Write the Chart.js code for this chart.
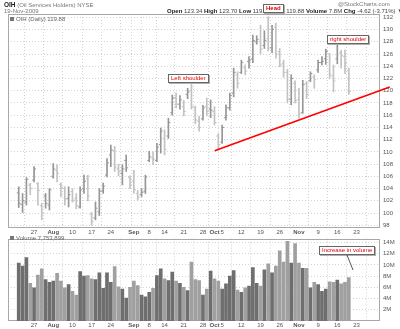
<!DOCTYPE html>
<html>
<head>
<meta charset="utf-8">
<script src="https://cdn.jsdelivr.net/npm/chart.js@4.4.0/dist/chart.umd.min.js"></script>
<style>
  html, body { margin: 0; padding: 0; background: #fff; }
  #lienzo { position: relative; width: 400px; height: 329px; overflow: hidden; font-family: "Liberation Sans", Arial, sans-serif; color: #444; }
  #graficaPrecios { position: absolute; left: 0; top: 0; }
  #graficaVolumen { position: absolute; left: 0; top: 232px; }
  .texto { position: absolute; white-space: nowrap; font-size: 6px; line-height: 7px; }
  .texto b { color: #222; }
  .icono { display: inline-block; width: 4px; height: 4px; background: #777; margin-right: 2px; vertical-align: 0; }
  .nota { position: absolute; white-space: nowrap; font-size: 6px; line-height: 7px; color: #e00000; background: #fff; border: 1px solid #666; box-shadow: 1px 1px 0 #b0b0b0; padding: 0 2px; }
  #flecha { position: absolute; left: 0; top: 0; }
</style>
</head>
<body>
<div id="lienzo">
  <canvas id="graficaPrecios" width="400" height="240"></canvas>
  <canvas id="graficaVolumen" width="400" height="97"></canvas>

  <div class="texto" style="left:4px;top:1px;"><b style="font-size:6.5px">OIH</b> <span style="color:#777">(Oil Services Holders) NYSE</span></div>
  <div class="texto" style="left:4px;top:8px;color:#777">19-Nov-2009</div>
  <div class="texto" style="left:338px;top:1px;color:#777">@StockCharts.com</div>
  <div class="texto" style="left:167px;top:8px;"><b>Open</b> 123.34 <b>High</b> 123.70 <b>Low</b> 119.40 <b>Last</b> 119.88 <b>Volume</b> 7.8M <b>Chg</b> -4.62 (-3.71%) &#9660;</div>
  <div class="texto" style="left:10px;top:16px;color:#666"><span class="icono"></span>OIH (Daily) 119.88</div>
  <div class="texto" style="left:10px;top:235px;color:#666"><span class="icono"></span>Volume 7,753,899</div>

  <div class="nota" style="left:263px;top:4px;font-weight:bold">Head</div>
  <div class="nota" style="left:168px;top:74px;">Left shoulder</div>
  <div class="nota" style="left:327px;top:35px;">right shoulder</div>
  <div class="nota" style="left:319px;top:246px;">Increase in volume</div>
  <svg id="flecha" width="400" height="329"><line x1="347" y1="255" x2="353" y2="270" stroke="#555" stroke-width="1"/></svg>
</div>

<script>
// sesiones de OIH, 21-jul a 19-nov-2009
const fechas = [
  "Jul 21", "Jul 22", "Jul 23", "Jul 24",
  "Jul 27", "Jul 28", "Jul 29", "Jul 30", "Jul 31",
  "Aug 3", "Aug 4", "Aug 5", "Aug 6", "Aug 7",
  "Aug 10", "Aug 11", "Aug 12", "Aug 13", "Aug 14",
  "Aug 17", "Aug 18", "Aug 19", "Aug 20", "Aug 21",
  "Aug 24", "Aug 25", "Aug 26", "Aug 27", "Aug 28",
  "Aug 31", "Sep 1", "Sep 2", "Sep 3", "Sep 4",
  "Sep 8", "Sep 9", "Sep 10", "Sep 11",
  "Sep 14", "Sep 15", "Sep 16", "Sep 17", "Sep 18",
  "Sep 21", "Sep 22", "Sep 23", "Sep 24", "Sep 25",
  "Sep 28", "Sep 29", "Sep 30", "Oct 1", "Oct 2",
  "Oct 5", "Oct 6", "Oct 7", "Oct 8", "Oct 9",
  "Oct 12", "Oct 13", "Oct 14", "Oct 15", "Oct 16",
  "Oct 19", "Oct 20", "Oct 21", "Oct 22", "Oct 23",
  "Oct 26", "Oct 27", "Oct 28", "Oct 29", "Oct 30",
  "Nov 2", "Nov 3", "Nov 4", "Nov 5", "Nov 6",
  "Nov 9", "Nov 10", "Nov 11", "Nov 12", "Nov 13",
  "Nov 16", "Nov 17", "Nov 18", "Nov 19"
];

const aperturas = [
  103.3, 101.4, 101.8, 104.6, 105.4, 104.8, 101.2, 102.8, 101.3, 106.0,
  107.0, 104.7, 104.0, 102.4, 103.5, 102.4, 101.0, 104.0, 105.6, 99.8,
  99.2, 100.2, 103.6, 106.2, 109.5, 110.2, 107.2, 106.5, 108.6, 105.8,
  105.2, 103.2, 103.0, 103.6, 108.6, 109.0, 108.6, 111.2, 112.2, 112.6,
  116.4, 118.9, 117.8, 117.4, 119.4, 120.0, 117.2, 115.0, 115.4, 117.4,
  117.0, 116.6, 112.6, 111.6, 115.6, 117.2, 119.6, 122.6, 123.0, 123.8,
  124.8, 125.2, 128.0, 128.0, 127.4, 128.5, 127.0, 130.4, 126.4, 124.4,
  123.0, 118.6, 121.2, 118.6, 116.4, 121.2, 121.6, 122.2, 123.4, 124.6,
  125.2, 126.0, 122.4, 125.2, 126.2, 125.6, 123.34
];
const maximos = [
  104.3, 103.2, 105.8, 104.9, 107.6, 105.0, 101.6, 103.2, 104.0, 108.1,
  107.9, 104.9, 104.3, 104.3, 104.0, 103.2, 104.3, 106.2, 106.2, 100.1,
  101.8, 104.0, 104.9, 108.9, 111.1, 110.9, 108.0, 107.9, 109.5, 106.1,
  107.0, 103.7, 104.0, 106.2, 110.1, 110.0, 111.4, 113.9, 113.6, 115.5,
  119.3, 119.6, 119.2, 118.4, 120.4, 121.2, 117.5, 115.8, 117.6, 118.8,
  118.5, 117.4, 113.0, 114.4, 117.7, 119.6, 123.7, 123.1, 125.0, 124.2,
  125.6, 129.1, 129.0, 130.7, 129.8, 132.1, 130.7, 131.0, 126.9, 125.0,
  123.5, 122.6, 121.6, 120.4, 121.7, 121.5, 123.1, 122.6, 125.0, 125.6,
  126.8, 126.1, 124.2, 128.3, 126.6, 126.7, 123.70
];
const minimos = [
  100.9, 100.1, 101.3, 103.0, 105.1, 101.3, 98.9, 100.8, 100.5, 105.7,
  105.1, 102.7, 101.3, 101.0, 101.8, 100.7, 100.8, 103.2, 102.0, 98.0,
  98.9, 99.6, 103.2, 105.9, 107.6, 106.8, 106.1, 104.6, 106.8, 104.0,
  103.2, 102.1, 102.7, 103.2, 108.4, 107.9, 108.4, 109.8, 109.5, 112.2,
  116.0, 117.2, 117.0, 115.9, 118.7, 117.0, 114.6, 113.4, 115.2, 115.9,
  115.6, 114.4, 110.3, 111.4, 115.2, 116.8, 119.0, 120.4, 122.8, 122.6,
  123.7, 124.6, 127.6, 126.0, 126.9, 126.5, 126.2, 125.3, 123.9, 122.2,
  118.0, 117.7, 118.0, 115.5, 116.3, 118.7, 121.5, 120.4, 123.0, 124.2,
  124.3, 122.0, 119.8, 124.4, 123.7, 122.8, 119.40
];
const cierres = [
  101.6, 102.0, 105.5, 104.0, 107.2, 103.7, 100.0, 101.6, 103.8, 107.2,
  106.5, 104.2, 102.3, 103.0, 102.1, 101.2, 103.8, 105.2, 102.8, 98.6,
  100.8, 103.6, 104.4, 108.2, 110.3, 107.5, 106.8, 107.2, 107.4, 104.6,
  103.8, 102.6, 103.4, 105.9, 109.2, 108.8, 110.8, 113.4, 110.4, 114.8,
  118.8, 117.8, 118.5, 116.6, 119.8, 117.4, 115.2, 114.0, 117.2, 116.6,
  116.8, 114.8, 111.2, 114.0, 117.2, 119.2, 123.0, 121.2, 124.6, 123.2,
  125.0, 128.2, 128.4, 126.8, 128.2, 127.0, 130.0, 126.0, 124.2, 123.0,
  118.6, 122.0, 118.4, 116.2, 121.0, 119.4, 122.8, 121.8, 124.6, 124.8,
  126.4, 122.6, 121.6, 127.6, 125.8, 124.50, 119.88
];
// volumen en millones de acciones
const volumenes = [
  10.3, 9.8, 11.3, 6.7, 5.9, 8.2, 9.3, 7.4, 6.9, 7.1,
  8.5, 7.1, 5.9, 6.5, 5.3, 4.6, 8.8, 8.0, 8.1, 7.5,
  7.4, 8.6, 5.8, 8.6, 6.9, 9.7, 6.1, 5.7, 4.1, 6.0,
  7.1, 6.3, 4.6, 4.3, 5.1, 5.8, 8.1, 9.3, 7.5, 7.2,
  8.7, 7.1, 6.7, 6.0, 5.4, 10.5, 7.4, 7.2, 4.6, 5.7,
  8.9, 7.5, 7.1, 5.7, 6.6, 8.0, 9.0, 5.5, 5.1, 5.9,
  6.2, 9.5, 6.7, 6.2, 9.1, 10.2, 8.6, 9.8, 12.5, 10.5,
  14.2, 10.3, 13.8, 10.3, 9.4, 9.4, 5.9, 6.9, 6.5, 5.3,
  5.7, 7.0, 6.9, 7.3, 6.6, 6.9, 7.753899
];

// marcas del eje de fechas (posicion en sesiones) y su texto
const marcasEje = [4, 9, 14, 19, 24, 29, 30, 34, 38, 43, 48, 51, 53, 58, 63, 68, 73, 78, 83, 88];
const etiquetasEje = ["27", "Aug", "10", "17", "24", "", "Sep", "8", "14", "21", "28", "Oct", "5", "12", "19", "26", "Nov", "9", "16", "23"];
const mesesEje = ["Aug", "Sep", "Oct", "Nov"];
const nivelesPrecio = [98, 100, 102, 104, 106, 108, 110, 112, 114, 116, 118, 120, 122, 124, 126, 128, 130, 132];
const nivelesVolumen = [2, 4, 6, 8, 10, 12, 14];

// linea de tendencia (cuello) trazada desde el minimo del 2-oct
const tendenciaX = [51.04, 96.66];
const tendenciaY = [110.2, 120.6];

const fuente = "'Liberation Sans', Arial, sans-serif";
const colorSube = "#969696";
const colorBaja = "#c2c2c2";
const colorVolSube = "#6e6e6e";
const colorVolBaja = "#a0a0a0";
const colorGrid = "#d2d2d2";

const indices = fechas.map((_, i) => i);
const baja = indices.map(i => i > 0 && cierres[i] < cierres[i - 1]);

const marcoPanel = {
    id: "marcoPanel",
    beforeDatasetsDraw(chart) {
        const { ctx, chartArea } = chart;
        ctx.save();
        ctx.strokeStyle = "#a8a8a8";
        ctx.lineWidth = 1;
        ctx.strokeRect(Math.round(chartArea.left) + 0.5, Math.round(chartArea.top) + 0.5,
            Math.round(chartArea.right - chartArea.left) - 1, Math.round(chartArea.bottom - chartArea.top) - 1);
        ctx.restore();
    }
};

function ejeFechas(alto) {
    return {
        type: "linear",
        min: -0.37,
        max: 91.7,
        afterBuildTicks: escala => { escala.ticks = marcasEje.map(v => ({ value: v })); },
        afterFit: escala => { escala.height = alto; },
        ticks: {
            autoSkip: false,
            maxRotation: 0,
            padding: 1,
            color: "#555",
            font: ctx => ({ family: fuente, size: 6, weight: mesesEje.includes(etiquetasEje[ctx.index]) ? "bold" : "normal" }),
            callback: (valor, i) => etiquetasEje[i]
        },
        grid: { color: colorGrid, drawTicks: false },
        border: { display: false, dash: [1, 2] }
    };
}

function ejeDerecho(min, max, niveles, formato) {
    return {
        position: "right",
        min: min,
        max: max,
        afterBuildTicks: escala => { escala.ticks = niveles.map(v => ({ value: v })); },
        afterFit: escala => { escala.width = 20; },
        ticks: { color: "#555", padding: 3, font: { family: fuente, size: 6 }, callback: formato },
        grid: { color: colorGrid, drawTicks: false },
        border: { display: false, dash: [1, 2] }
    };
}

new Chart(document.getElementById("graficaPrecios"), {
    type: "bar",
    data: {
        datasets: [
            {
                label: "Rango",
                data: indices.map(i => ({ x: i, y: [minimos[i], maximos[i]] })),
                backgroundColor: indices.map(i => baja[i] ? colorBaja : colorSube),
                barThickness: 1,
                order: 3
            },
            {
                type: "line",
                label: "Apertura",
                data: indices.map(i => ({ x: i - 0.25, y: aperturas[i] })),
                showLine: false,
                pointStyle: "line",
                pointRadius: 1,
                pointBorderWidth: 1,
                pointBorderColor: indices.map(i => baja[i] ? colorBaja : colorSube),
                order: 2
            },
            {
                type: "line",
                label: "Cierre",
                data: indices.map(i => ({ x: i + 0.25, y: cierres[i] })),
                showLine: false,
                pointStyle: "line",
                pointRadius: 1,
                pointBorderWidth: 1,
                pointBorderColor: indices.map(i => baja[i] ? colorBaja : colorSube),
                order: 2
            },
            {
                type: "line",
                label: "Tendencia",
                data: tendenciaX.map((x, i) => ({ x: x, y: tendenciaY[i] })),
                borderColor: "#ff0000",
                borderWidth: 1.6,
                pointRadius: 0,
                clip: false,
                order: 1
            }
        ]
    },
    options: {
        responsive: false,
        animation: false,
        layout: { padding: { left: 8, top: 14, right: 0, bottom: 0 } },
        plugins: { legend: { display: false }, tooltip: { enabled: false } },
        events: [],
        scales: {
            x: ejeFechas(12),
            y: ejeDerecho(97.56, 132.54, nivelesPrecio, v => String(v))
        }
    },
    plugins: [marcoPanel]
});

new Chart(document.getElementById("graficaVolumen"), {
    type: "bar",
    data: {
        datasets: [{
            label: "Volumen",
            data: indices.map(i => ({ x: i, y: volumenes[i] })),
            backgroundColor: indices.map(i => baja[i] ? colorVolBaja : colorVolSube),
            barThickness: 3
        }]
    },
    options: {
        responsive: false,
        animation: false,
        layout: { padding: { left: 8, top: 3, right: 0, bottom: 0 } },
        plugins: { legend: { display: false }, tooltip: { enabled: false } },
        events: [],
        scales: {
            x: ejeFechas(8),
            y: ejeDerecho(0, 14.68, nivelesVolumen, v => v + "M")
        }
    },
    plugins: [marcoPanel]
});
</script>
</body>
</html>
